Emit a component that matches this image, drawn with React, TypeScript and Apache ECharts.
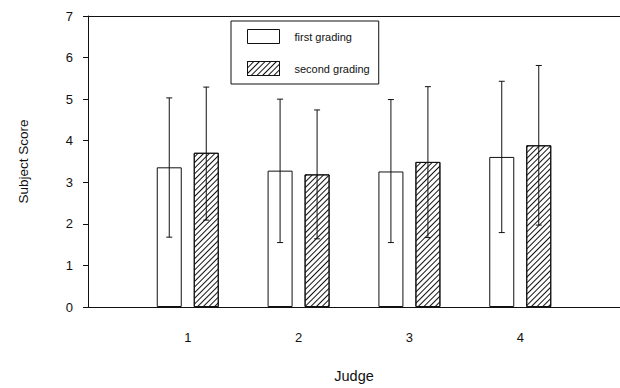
import React, { useEffect, useRef } from "react";
import * as echarts from "echarts";

const judges = [1, 2, 3, 4];
const firstMean = [3.36, 3.28, 3.26, 3.61];
const firstLow = [1.68, 1.55, 1.55, 1.79];
const firstHigh = [5.03, 5.0, 4.99, 5.43];
const secondMean = [3.71, 3.19, 3.49, 3.89];
const secondLow = [2.09, 1.64, 1.67, 1.97];
const secondHigh = [5.29, 4.74, 5.3, 5.81];
const seriesNames = ["first grading", "second grading"];

const INK = "#111";
const FONT = "Liberation Sans, Arial, sans-serif";
const BAR_W = 25;
const BAR_GAP = 0.48;
const OFFSET = (BAR_W + BAR_W * BAR_GAP) / 2;

function errorSeries(low: number[], high: number[], dx: number) {
  return {
    type: "custom",
    xAxisIndex: 0,
    yAxisIndex: 0,
    z: 5,
    silent: true,
    data: judges.map((j, i) => [j, low[i], high[i]]),
    renderItem: (params: any, api: any) => {
      const lo = api.coord([api.value(0), api.value(1)]);
      const hi = api.coord([api.value(0), api.value(2)]);
      const x = lo[0] + dx;
      const cap = 3;
      const style = { stroke: INK, lineWidth: 1 };
      return {
        type: "group",
        children: [
          { type: "line", shape: { x1: x, y1: lo[1], x2: x, y2: hi[1] }, style },
          { type: "line", shape: { x1: x - cap, y1: hi[1], x2: x + cap, y2: hi[1] }, style },
          { type: "line", shape: { x1: x - cap, y1: lo[1], x2: x + cap, y2: lo[1] }, style },
        ],
      };
    },
  };
}

export default function App() {
  const ref = useRef<HTMLDivElement>(null);
  useEffect(() => {
    document.body.style.margin = "0";
    const chart = echarts.init(ref.current!, null, { renderer: "svg" });
    const xCommon = {
      type: "value",
      min: 0.1,
      max: 4.9,
      splitLine: { show: false },
      axisTick: { show: false },
    };
    chart.setOption({
      animation: false,
      backgroundColor: "#fff",
      textStyle: { fontFamily: FONT, color: INK },
      grid: { left: 88, right: 0, top: 16, bottom: 80 },
      legend: {
        orient: "vertical",
        left: 231,
        top: 21,
        data: seriesNames,
        icon: "rect",
        itemWidth: 32,
        itemHeight: 14,
        itemGap: 17,
        padding: [8, 9, 8, 16],
        borderColor: INK,
        borderWidth: 1,
        itemStyle: { borderWidth: 1, borderColor: INK },
        textStyle: { fontSize: 11, color: INK, fontFamily: FONT, padding: [0, 0, 0, 10] },
      },
      xAxis: [
        {
          ...xCommon,
          position: "bottom",
          name: "Judge",
          nameLocation: "middle",
          nameGap: 61,
          nameTextStyle: { fontSize: 14.5, color: INK, fontFamily: FONT },
          axisLine: { show: true, lineStyle: { color: INK, width: 1 } },
          axisLabel: {
            customValues: judges,
            margin: 24,
            fontSize: 13,
            color: INK,
            fontFamily: FONT,
            formatter: (v: number) => String(v),
          },
        },
        {
          ...xCommon,
          position: "top",
          axisLine: { show: true, lineStyle: { color: INK, width: 1 } },
          axisLabel: { show: false },
        },
      ],
      yAxis: {
        type: "value",
        min: 0,
        max: 7,
        interval: 1,
        name: "Subject Score",
        nameLocation: "middle",
        nameRotate: 90,
        nameGap: 58,
        nameTextStyle: { fontSize: 13.5, color: INK, fontFamily: FONT },
        splitLine: { show: false },
        axisLine: { show: true, lineStyle: { color: INK, width: 1 } },
        axisTick: { show: true, length: 5, lineStyle: { color: INK } },
        axisLabel: { margin: 15, fontSize: 13, color: INK, fontFamily: FONT },
      },
      series: [
        {
          name: seriesNames[0],
          type: "bar",
          xAxisIndex: 0,
          barWidth: BAR_W,
          barGap: BAR_GAP * 100 + "%",
          data: judges.map((j, i) => [j, firstMean[i]]),
          itemStyle: { color: "#fff", borderColor: INK, borderWidth: 1 },
        },
        {
          name: seriesNames[1],
          type: "bar",
          xAxisIndex: 0,
          barWidth: BAR_W,
          barGap: BAR_GAP * 100 + "%",
          data: judges.map((j, i) => [j, secondMean[i]]),
          itemStyle: {
            color: "#fff",
            borderColor: INK,
            borderWidth: 1,
            decal: {
              symbol: "rect",
              symbolSize: 1,
              color: INK,
              dashArrayX: [1, 0],
              dashArrayY: [1, 2.6],
              rotation: -Math.PI / 4,
            },
          },
        },
        errorSeries(firstLow, firstHigh, -OFFSET),
        errorSeries(secondLow, secondHigh, OFFSET),
      ],
    });
    return () => chart.dispose();
  }, []);
  return <div ref={ref} style={{ width: 620, height: 388 }} />;
}
